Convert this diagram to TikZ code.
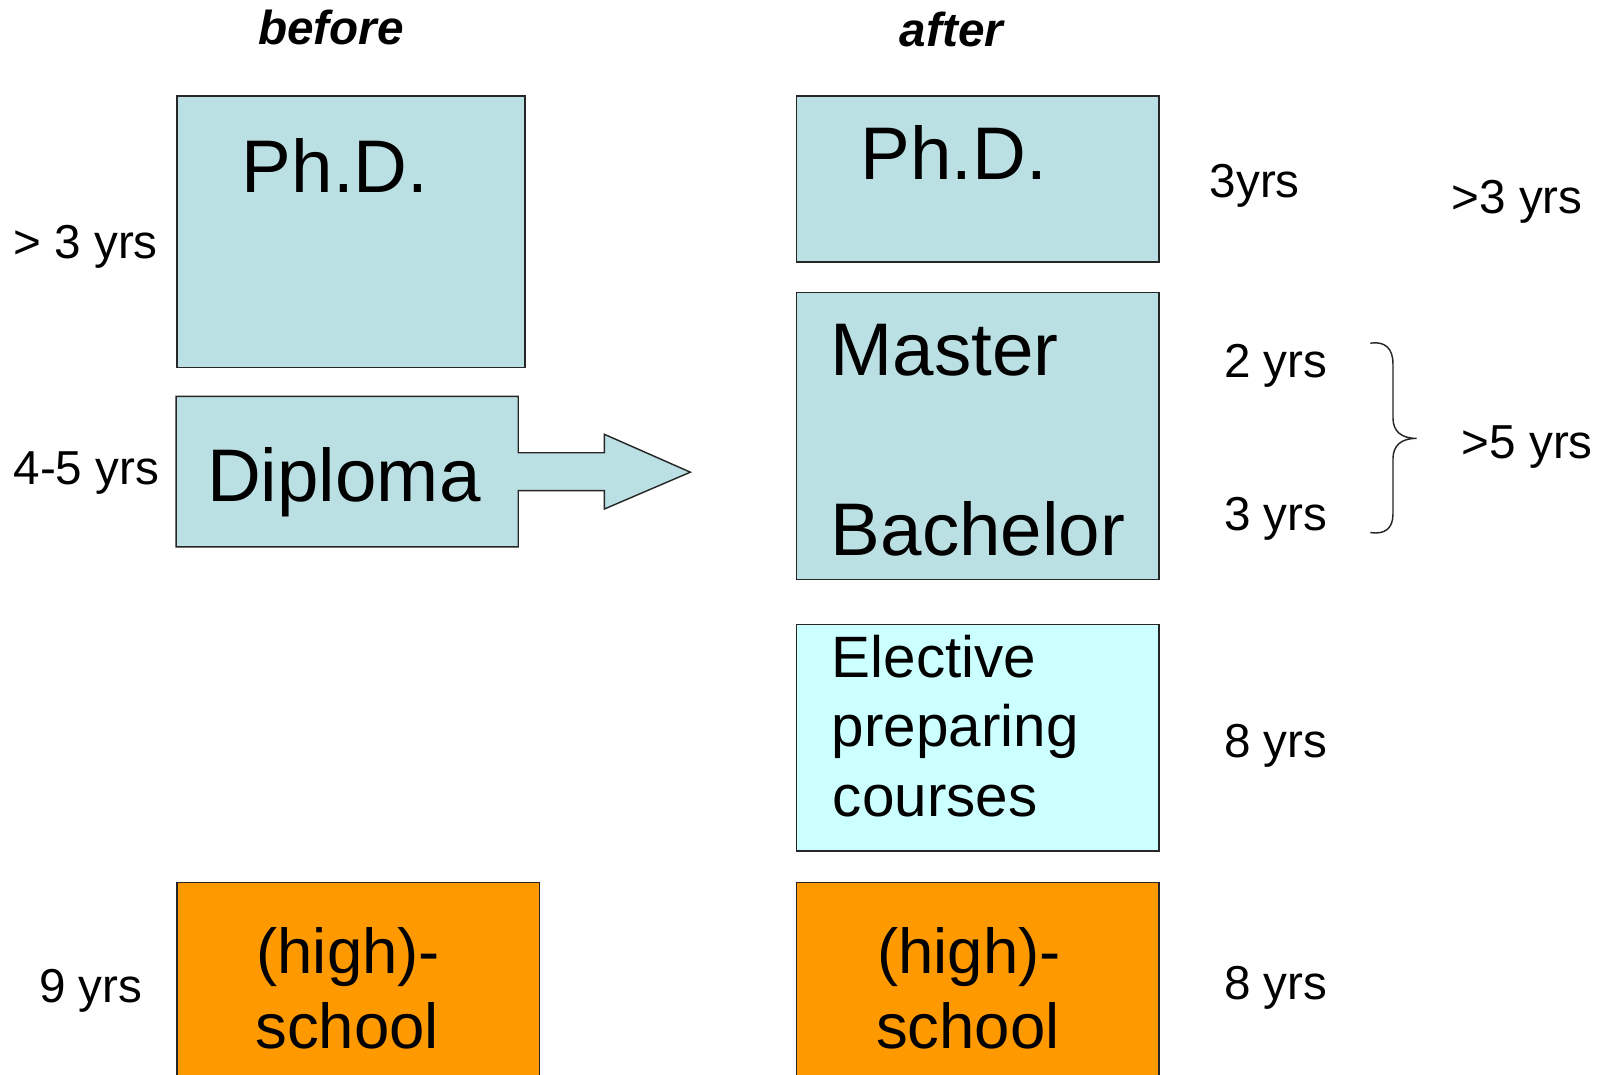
\documentclass[tikz,border=0pt]{standalone}
\usepackage{fontspec}
\setmainfont{Liberation Sans}
\definecolor{boxblue}{HTML}{BBE0E3}
\definecolor{boxorange}{HTML}{FF9900}
\definecolor{boxcyan}{HTML}{CCFFFF}
\begin{document}
\begin{tikzpicture}[x=1pt,y=-1pt,
  box/.style={draw=black!85,line width=1.4pt,inner sep=0pt,anchor=north west},
  bigtxt/.style={font=\fontsize{72.8}{80}\selectfont,inner sep=0pt,anchor=base west},
  midtxt/.style={font=\fontsize{62}{74}\selectfont,inner sep=0pt,anchor=base},
  eltxt/.style={font=\fontsize{57}{68}\selectfont,inner sep=0pt,anchor=base west},
  yrs/.style={font=\fontsize{46.5}{54}\selectfont,inner sep=0pt,anchor=base west},
  head/.style={font=\fontsize{46.5}{54}\selectfont\bfseries\itshape,inner sep=0pt,anchor=base}]
\clip (0,0) rectangle (1568,1049);
\fill[white] (0,0) rectangle (1568,1049);

% headings
\node[head] (hbefore) at (323,43) {before};
\node[head] (hafter) at (929,45) {after};

% left column
\node[box,fill=boxblue,minimum width=340pt,minimum height=265pt] (phdL) at (172,93) {};
\node[bigtxt] (phdLt) at (236,188) {Ph.D.};
\draw[draw=black!85,line width=1.4pt,fill=boxblue]
  (172,387) -- (506,387) -- (506,442) -- (590,442) -- (590,424) -- (674,461)
  -- (590,497) -- (590,479) -- (506,479) -- (506,534) -- (172,534) -- cycle;
\coordinate (diptip) at (674,461);
\node[bigtxt] (dipt) at (202,490) {Diploma};
\node[box,fill=boxorange,minimum width=354pt,minimum height=260pt] (schoolL) at (172,861) {};
\node[midtxt] (schoolL1) at (340,950) {(high)-};
\node[midtxt] (schoolL2) at (339,1024) {school};

\node[yrs] (yL1) at (13,252) {> 3 yrs};
\node[yrs] (yL2) at (13,473) {4-5 yrs};
\node[yrs] (yL3) at (38,979) {9 yrs};

% right column
\node[box,fill=boxblue,minimum width=354pt,minimum height=162pt] (phdR) at (777,93) {};
\node[bigtxt] (phdRt) at (840,175) {Ph.D.};
\node[box,fill=boxblue,minimum width=354pt,minimum height=280pt] (mb) at (777,285) {};
\node[bigtxt] (mastert) at (811,367) {Master};
\node[bigtxt] (bacht) at (811,542) {Bachelor};
\node[box,fill=boxcyan,minimum width=354pt,minimum height=221pt] (elec) at (777,609) {};
\node[eltxt] (el1) at (812,661) {Elective};
\node[eltxt] (el2) at (812,729) {preparing};
\node[eltxt] (el3) at (813,797) {courses};
\node[box,fill=boxorange,minimum width=354pt,minimum height=260pt] (schoolR) at (777,861) {};
\node[midtxt] (schoolR1) at (946,950) {(high)-};
\node[midtxt] (schoolR2) at (945,1024) {school};

\node[yrs] (yR1) at (1181,193) {3yrs};
\node[yrs] (yR2) at (1417,208) {>3 yrs};
\node[yrs] (yR3) at (1195,369) {2 yrs};
\node[yrs] (yR4) at (1195,518) {3 yrs};
\node[yrs] (yR5) at (1427,448) {>5 yrs};
\node[yrs] (yR6) at (1195,740) {8 yrs};
\node[yrs] (yR7) at (1195,976) {8 yrs};

% brace
\draw[line width=1.4pt,black!85]
  (1338,335) .. controls (1352,333) and (1360,340) .. (1360,355) -- (1360,408)
  .. controls (1360,421) and (1368,428) .. (1383,428)
  .. controls (1368,428) and (1360,435) .. (1360,448) -- (1360,502)
  .. controls (1360,516) and (1352,522) .. (1338,520);
\end{tikzpicture}
\end{document}
